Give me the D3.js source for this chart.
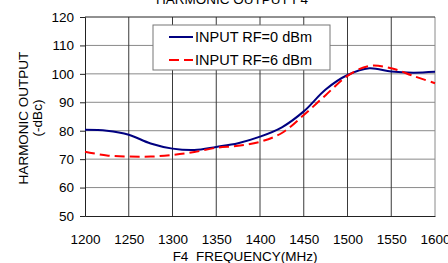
<!DOCTYPE html>
<html>
<head>
<meta charset="utf-8">
<script src="https://cdn.jsdelivr.net/npm/d3@7"></script>
<style>
  body { margin: 0; background: #fff; }
  text { font-family: "Liberation Sans", Arial, sans-serif; fill: #000; }
</style>
</head>
<body>
<div id="chart"></div>
<script>
// Frequency points (MHz) and harmonic output (-dBc) per input level
const freqs = [1200, 1225, 1250, 1275, 1300, 1325, 1350, 1375, 1400, 1425, 1450, 1475, 1500, 1525, 1550, 1575, 1600];
const rf0dBm = [80.3, 80.0, 78.6, 75.5, 73.7, 73.2, 74.3, 75.6, 77.9, 81.2, 86.8, 94.5, 99.6, 102.0, 100.8, 100.4, 100.7];
const rf6dBm = [72.6, 71.3, 70.9, 70.9, 71.5, 72.5, 74.0, 74.7, 76.1, 79.2, 85.5, 92.5, 99.3, 102.8, 102.0, 99.3, 96.7];
const xTicks = [1200, 1250, 1300, 1350, 1400, 1450, 1500, 1550, 1600];
const yTicks = [50, 60, 70, 80, 90, 100, 110, 120];
const seriesNames = ["INPUT RF=0 dBm", "INPUT RF=6 dBm"];

const width = 448, height = 263;
const margin = { top: 17, right: 13, bottom: 47, left: 85 };

const svg = d3.select("#chart").append("svg")
    .attr("width", width)
    .attr("height", height);

const x = d3.scaleLinear().domain([1200, 1600]).range([margin.left, width - margin.right]);
const y = d3.scaleLinear().domain([50, 120]).range([height - margin.bottom, margin.top]);

// grid
svg.append("g")
  .selectAll("line")
  .data(yTicks.slice(1, -1))
  .join("line")
    .attr("x1", x(1200)).attr("x2", x(1600))
    .attr("y1", d => y(d)).attr("y2", d => y(d))
    .attr("stroke", "#8a8a8a").attr("stroke-width", 1);

svg.append("g")
  .selectAll("line")
  .data(xTicks.slice(1))
  .join("line")
    .attr("x1", d => x(d)).attr("x2", d => x(d))
    .attr("y1", y(120)).attr("y2", y(50))
    .attr("stroke", d => d === 1600 ? "#8a8a8a" : "#3a3a3a").attr("stroke-width", 1);

// top border
svg.append("line")
    .attr("x1", x(1200)).attr("x2", x(1600))
    .attr("y1", y(120)).attr("y2", y(120))
    .attr("stroke", "#222");

// axes
svg.append("g")
    .attr("transform", `translate(${x(1200)},0)`)
    .call(d3.axisLeft(y).tickValues(yTicks).tickSize(5).tickPadding(6))
    .call(g => g.selectAll("path, line").attr("stroke", "#222"))
    .call(g => g.selectAll("text").attr("font-size", "13.5px").attr("font-family", null));

svg.append("g")
    .attr("transform", `translate(0,${y(50)})`)
    .call(d3.axisBottom(x).tickValues(xTicks).tickSize(0).tickPadding(18).tickFormat(d3.format("d")))
    .call(g => g.selectAll("path").attr("stroke", "#222"))
    .call(g => g.selectAll("text").attr("font-size", "13.5px").attr("font-family", null));

// series
const line = d3.line()
    .x((d, i) => x(freqs[i]))
    .y(d => y(d))
    .curve(d3.curveCatmullRom.alpha(0.5));

svg.append("path")
    .attr("d", line(rf0dBm))
    .attr("fill", "none")
    .attr("stroke", "#000080")
    .attr("stroke-width", 2);

svg.append("path")
    .attr("d", line(rf6dBm))
    .attr("fill", "none")
    .attr("stroke", "#ff0000")
    .attr("stroke-width", 2)
    .attr("stroke-dasharray", "10,5");

// legend
const lg = svg.append("g").attr("transform", "translate(153,25)");
lg.append("rect")
    .attr("width", 177).attr("height", 45)
    .attr("fill", "#fff").attr("stroke", "#777");
lg.append("line").attr("x1", 16).attr("x2", 40).attr("y1", 12).attr("y2", 12)
    .attr("stroke", "#000080").attr("stroke-width", 2);
lg.append("line").attr("x1", 16).attr("x2", 40).attr("y1", 35).attr("y2", 35)
    .attr("stroke", "#ff0000").attr("stroke-width", 2).attr("stroke-dasharray", "10,5");
lg.selectAll("text.lbl")
  .data(seriesNames)
  .join("text")
    .attr("class", "lbl")
    .attr("x", 42).attr("y", (d, i) => 17 + i * 23)
    .attr("font-size", "14.5px")
    .text(d => d);

// titles
svg.append("text")
    .attr("x", 232).attr("y", 4)
    .attr("text-anchor", "middle")
    .attr("font-size", "13.5px")
    .text("HARMONIC OUTPUT F4");

svg.append("text")
    .attr("x", 245).attr("y", 261)
    .attr("text-anchor", "middle")
    .attr("font-size", "13.5px")
    .style("white-space", "pre")
    .text("F4  FREQUENCY(MHz)");

svg.append("text")
    .attr("transform", "translate(28,118) rotate(-90)")
    .attr("text-anchor", "middle")
    .attr("font-size", "13.5px")
    .text("HARMONIC OUTPUT");

svg.append("text")
    .attr("transform", "translate(42,118) rotate(-90)")
    .attr("text-anchor", "middle")
    .attr("font-size", "13.5px")
    .text("(-dBc)");
</script>
</body>
</html>
